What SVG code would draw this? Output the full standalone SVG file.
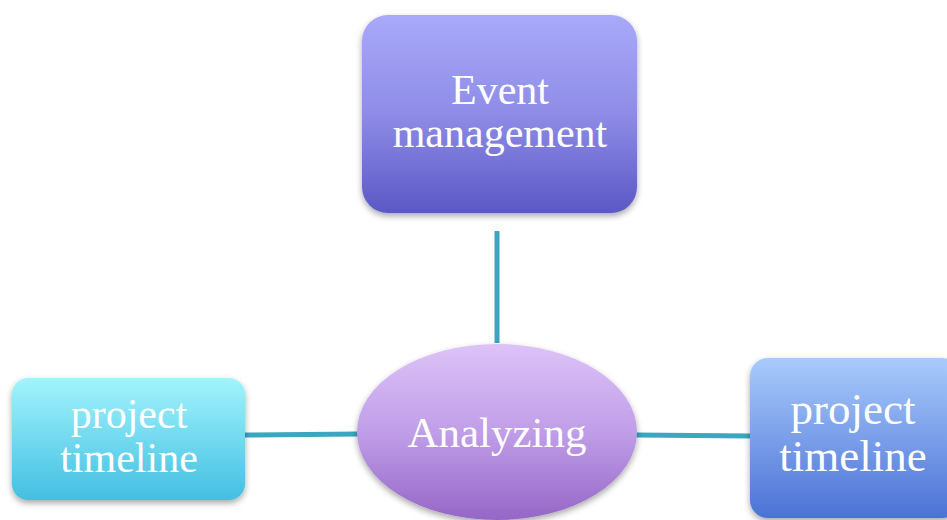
<svg xmlns="http://www.w3.org/2000/svg" width="947" height="520" viewBox="0 0 947 520">
<defs>
<linearGradient id="gTop" x1="0" y1="0" x2="0" y2="1"><stop offset="0" stop-color="#a9a9fa"/><stop offset="0.5" stop-color="#8e8ce6"/><stop offset="1" stop-color="#5b58c6"/></linearGradient>
<linearGradient id="gLeft" x1="0" y1="0" x2="0" y2="1"><stop offset="0" stop-color="#a2f4fc"/><stop offset="1" stop-color="#43bfe2"/></linearGradient>
<linearGradient id="gMid" x1="0" y1="0" x2="0" y2="1"><stop offset="0" stop-color="#dcc3f7"/><stop offset="0.5" stop-color="#c09ee8"/><stop offset="1" stop-color="#9566c6"/></linearGradient>
<linearGradient id="gRight" x1="0" y1="0" x2="0" y2="1"><stop offset="0" stop-color="#a9cbfc"/><stop offset="1" stop-color="#4b72d6"/></linearGradient>
<filter id="sh" x="-10%" y="-10%" width="120%" height="125%"><feDropShadow dx="0" dy="3" stdDeviation="3" flood-color="#000" flood-opacity="0.35"/></filter>
</defs>
<style>
.t{font-family:"Liberation Serif","DejaVu Serif",serif;fill:#ffffff;text-anchor:middle}
.c{stroke:#3aa6c0;stroke-width:5;fill:none}
</style>
<g id="connectors">
<line class="c" x1="497" y1="231" x2="497" y2="343"/>
<line class="c" x1="245" y1="435" x2="358" y2="434"/>
<line class="c" x1="636" y1="435" x2="751" y2="436"/>
</g>
<g id="event">
<rect x="362" y="15" width="275" height="198" rx="26" fill="url(#gTop)" filter="url(#sh)"/>
<text class="t" x="500" y="104" font-size="42">Event</text>
<text class="t" x="500" y="147" font-size="42">management</text>
</g>
<g id="left">
<rect x="12" y="378" width="233" height="122" rx="16" fill="url(#gLeft)" filter="url(#sh)"/>
<text class="t" x="129" y="428" font-size="42">project</text>
<text class="t" x="129" y="472" font-size="42">timeline</text>
</g>
<g id="analyzing">
<ellipse cx="497" cy="432" rx="140" ry="88" fill="url(#gMid)" filter="url(#sh)"/>
<text class="t" x="497" y="447" font-size="43">Analyzing</text>
</g>
<g id="right">
<rect x="750" y="358" width="210" height="160" rx="18" fill="url(#gRight)" filter="url(#sh)"/>
<text class="t" x="853" y="424" font-size="45">project</text>
<text class="t" x="853" y="471" font-size="45">timeline</text>
</g>
</svg>
